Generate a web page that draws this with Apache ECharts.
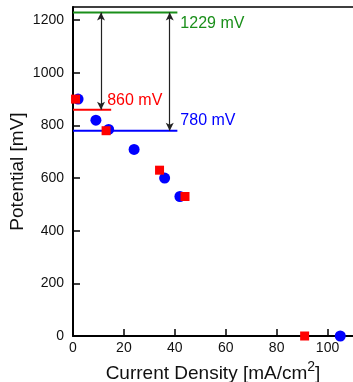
<!DOCTYPE html>
<html><head><meta charset="utf-8">
<script src="https://cdn.jsdelivr.net/npm/echarts@6/dist/echarts.min.js"></script>
<style>html,body{margin:0;padding:0;background:#fff}#c{width:353px;height:382px}</style>
</head><body><div id="c"></div>
<script>
// Data
var blueX = [2, 9, 14, 24, 36, 42, 105];
var blueY = [900, 820, 785, 709, 600, 530, 0];
var redX = [1, 13, 34, 44, 91];
var redY = [900, 780, 630, 530, 0];
var levelNames = ['1229 mV', '860 mV', '780 mV'];
var levelValues = [1229, 860, 780];
var levelEndX = [41, 15, 41];
var arrowX = [11, 38];
var arrowFrom = [1229, 1229];
var arrowTo = [860, 780];
var xTicks = [0, 20, 40, 60, 80, 100];
var yTicks = [0, 200, 400, 600, 800, 1000, 1200];

var font = 'Liberation Sans, Arial, Helvetica, sans-serif';
var chart = echarts.init(document.getElementById('c'));
function zip(a, b) { return a.map(function (v, i) { return [v, b[i]]; }); }
var levelColors = ['#1a8f1a', '#ff0000', '#0000ff'];
var labelOffsets = [[-5, 11], [-12, -9], [-5, -10]];

var series = [];
levelValues.forEach(function (v, i) {
  series.push({
    type: 'line', data: [[0, v], [levelEndX[i], v]], symbol: 'none', silent: true,
    lineStyle: { color: levelColors[i], width: 2 },
    endLabel: { show: true, formatter: levelNames[i], color: levelColors[i], fontSize: 16, fontFamily: font, offset: labelOffsets[i], align: 'left' },
    z: 2
  });
});
series.push({
  type: 'line', data: [], symbol: 'none',
  markLine: {
    silent: true, symbol: ['arrow', 'arrow'], symbolSize: [6, 8],
    label: { show: false },
    lineStyle: { color: '#222', width: 1.2, type: 'solid' },
    data: arrowX.map(function (x, i) { return [{ coord: [x, arrowFrom[i]] }, { coord: [x, arrowTo[i]] }]; })
  }
});
series.push({
  type: 'scatter', data: zip(blueX, blueY), symbol: 'circle', symbolSize: 11,
  itemStyle: { color: '#0000ff', opacity: 1 }, z: 3
});
series.push({
  type: 'scatter', data: zip(redX, redY), symbol: 'rect', symbolSize: 9,
  itemStyle: { color: '#ff0000', opacity: 1 }, z: 4
});

chart.setOption({
  animation: false,
  grid: { left: 73, top: 7, right: 0, bottom: 46, containLabel: false, outerBoundsMode: 'none' },
  xAxis: [{
    type: 'value', min: 0, max: 110, interval: 20,
    name: 'Current Density [mA/cm{sup|2}]', nameLocation: 'middle', nameGap: 24,
    nameTextStyle: { fontSize: 19, color: '#111', fontFamily: font, rich: { sup: { fontSize: 14, padding: [0, 0, 13, 0], fontFamily: font, color: '#111' } } },
    axisLine: { lineStyle: { color: '#000', width: 2 } },
    axisTick: { inside: true, length: 7, lineStyle: { color: '#000', width: 1.5 } },
    axisLabel: { fontSize: 14, color: '#111', fontFamily: font, margin: 5, showMaxLabel: false,
      formatter: function (v) { return xTicks.indexOf(v) >= 0 ? String(v) : ''; } },
    splitLine: { show: false }
  }, {
    type: 'value', min: 0, max: 110, position: 'top',
    axisLine: { show: true, lineStyle: { color: '#000', width: 1.5 } },
    axisTick: { show: false }, axisLabel: { show: false }, splitLine: { show: false }
  }],
  yAxis: {
    type: 'value', min: 0, max: 1250, interval: 200,
    name: 'Potential [mV]', nameLocation: 'middle', nameGap: 46, nameMoveOverlap: false,
    nameTextStyle: { fontSize: 19, color: '#111', fontFamily: font },
    axisLine: { lineStyle: { color: '#000', width: 2 } },
    axisTick: { inside: true, length: 7, lineStyle: { color: '#000', width: 1.5 } },
    axisLabel: { fontSize: 14, color: '#111', fontFamily: font, margin: 9, showMaxLabel: false,
      formatter: function (v) { return yTicks.indexOf(v) >= 0 ? String(v) : ''; } },
    splitLine: { show: false }
  },
  series: series
});
</script></body></html>
